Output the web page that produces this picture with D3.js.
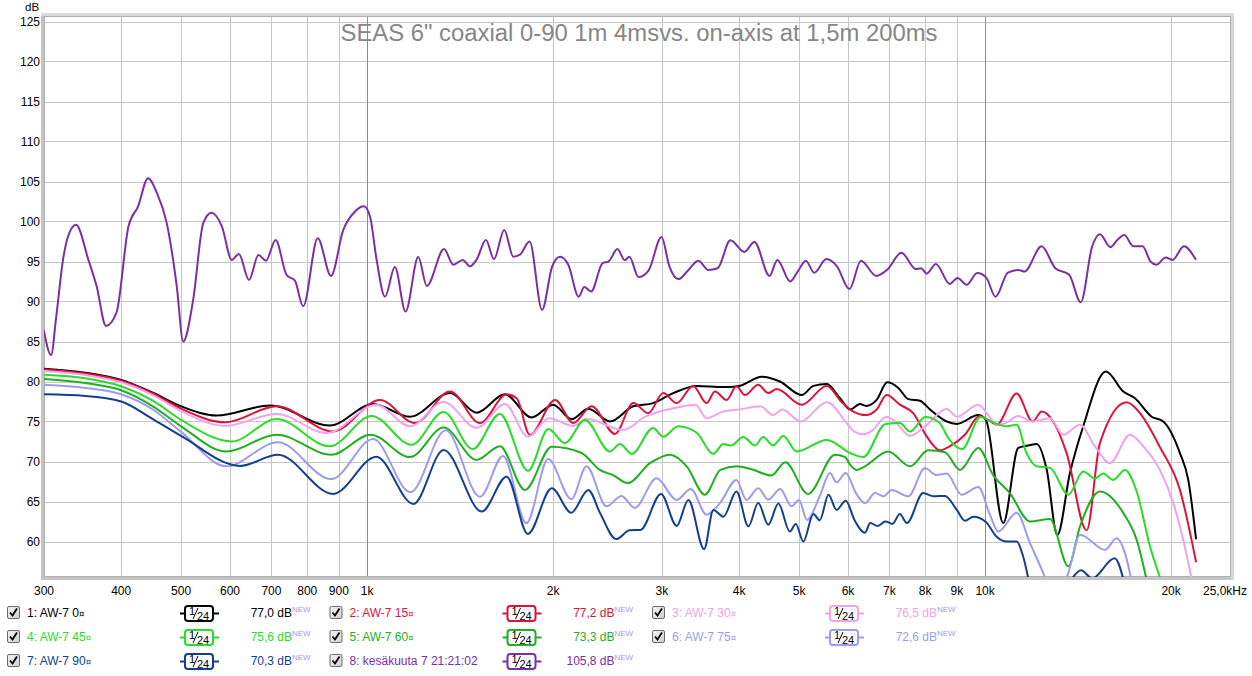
<!DOCTYPE html>
<html><head><meta charset="utf-8">
<script src="https://cdn.jsdelivr.net/npm/d3@7"></script>
<style>html,body{margin:0;padding:0;background:#fff;}svg{display:block;}</style>
</head><body>
<svg id="c" width="1252" height="676"></svg>
<script>
// ---------- data ----------
const title = "SEAS 6\" coaxial 0-90 1m 4msvs. on-axis at 1,5m 200ms";
const yTicks = [60,65,70,75,80,85,90,95,100,105,110,115,120,125];
const xTicks = [300,400,500,600,700,800,900,1000,2000,3000,4000,5000,6000,7000,8000,9000,10000,20000];
const xTickLabels = ["300","400","500","600","700","800","900","1k","2k","3k","4k","5k","6k","7k","8k","9k","10k","20k"];
const xEndLabel = "25,0kHz";
const seriesNames = ["1: AW-7 0","2: AW-7 15","3: AW-7 30","4: AW-7 45","5: AW-7 60","6: AW-7 75","7: AW-7 90","8: kesäkuuta 7 21:21:02"];
const seriesMarks = ["¤","¤","¤","¤","¤","¤","¤",""];
const seriesLevels = ["77,0","77,2","76,5","75,6","73,3","72,6","70,3","105,8"];
const seriesColors = ["#000000","#dc143c","#f2a2ec","#28dc28","#1fb01f","#9c9cee","#123f8f","#7b2fa6"];
const smoothing = "1/24";

const aw0 = [[300,81.6],[350,81.1],[400,80.2],[450,78.6],[500,76.9],[571,75.75],[697,77.0],[870,74.5],[1023,77.2],[1173,75.6],[1362,78.55],[1504,76.1],[1671,78.4],[1846,75.5],[2000,77.1],[2143,75.3],[2280,76.6],[2472,75.0],[2696,76.9],[2904,77.3],[3129,78.55],[3414,79.45],[3771,79.3],[4000,79.45],[4350,80.6],[4656,80.0],[5050,78.3],[5274,79.45],[5544,79.7],[5824,77.9],[6050,76.5],[6272,77.2],[6420,76.95],[6676,77.7],[6945,79.9],[7237,79.2],[7512,77.8],[7846,77.6],[8146,76.5],[8666,75.0],[9000,74.7],[9749,75.8],[10030,75.2],[10701,62.3],[11316,71.7],[11745,72.0],[12120,72.2],[12580,69.0],[13087,60.8],[13719,68.55],[14415,74.4],[15686,81.25],[16735,78.75],[17480,77.9],[18597,75.6],[19422,75.0],[20667,71.05],[21320,67.7],[21940,60.4]];
const aw15 = [[300,81.5],[350,81.0],[400,80.1],[450,78.5],[500,76.6],[589,74.9],[714,76.9],[881,73.75],[1049,77.7],[1195,74.8],[1362,78.75],[1523,74.8],[1682,78.4],[1746,77.9],[1834,73.3],[2015,77.7],[2156,74.8],[2308,76.9],[2518,73.45],[2696,77.3],[2851,76.05],[3014,78.55],[3169,77.3],[3370,79.45],[3543,77.3],[3655,78.75],[3817,77.7],[3960,79.4],[4087,78.3],[4294,79.6],[4458,78.55],[4600,79.05],[5050,77.1],[5544,79.45],[5850,77.5],[6100,76.3],[6420,75.8],[6676,76.5],[6930,78.3],[7281,77.1],[7651,76.05],[8050,73.1],[8454,71.4],[8760,71.9],[9279,73.35],[9790,75.7],[10120,75.2],[10440,74.6],[11250,78.5],[11940,75.0],[12350,76.25],[12890,75.0],[13550,71.05],[14600,61.4],[15340,72.3],[16948,77.4],[17808,76.05],[19182,71.8],[20667,66.45],[21940,57.5]];
const aw30 = [[300,81.3],[350,80.8],[400,79.9],[450,78.3],[500,76.3],[589,74.45],[714,75.95],[860,73.55],[1035,77.1],[1173,74.4],[1330,77.45],[1504,74.2],[1671,77.2],[1820,73.1],[1970,75.4],[2156,74.45],[2265,75.3],[2597,73.95],[2820,75.6],[3129,76.65],[3400,77.1],[3543,75.4],[3771,76.25],[4000,76.5],[4330,76.9],[4540,75.8],[4700,76.5],[5030,75.0],[5544,77.4],[6000,74.6],[6150,73.7],[6350,73.4],[6550,73.8],[6930,75.6],[7150,75.0],[7560,73.2],[8000,74.4],[8666,76.55],[9000,75.6],[9750,77.1],[10120,75.8],[10440,74.6],[10800,74.8],[11316,75.7],[11900,75.0],[12740,75.4],[13380,73.35],[14240,74.6],[15060,71.9],[15924,69.8],[17158,73.35],[18030,71.9],[19182,68.95],[20160,64.8],[20926,60.2],[21700,54.5]];
const aw45 = [[300,80.85],[350,80.4],[400,79.4],[450,77.6],[500,75.2],[604,72.5],[714,75.3],[870,71.9],[1017,75.7],[1180,72.1],[1330,76.2],[1482,71.55],[1640,75.95],[1822,68.85],[1965,74.05],[2090,72.3],[2251,75.2],[2472,71.25],[2565,72.2],[2680,70.95],[2904,74.2],[3014,73.1],[3189,74.4],[3414,73.6],[3633,70.95],[3771,72.2],[3880,72.0],[4062,73.05],[4243,72.0],[4375,73.05],[4540,72.0],[4715,73.2],[4956,71.25],[5544,72.7],[6070,71.0],[6350,70.55],[6900,74.7],[7280,74.8],[7560,73.75],[8000,75.55],[8420,74.9],[8760,72.7],[9180,71.55],[9830,75.55],[10300,74.9],[10837,74.4],[11250,74.6],[11670,71.05],[12120,69.4],[12735,69.2],[13636,65.85],[14415,68.75],[15057,67.9],[15531,68.5],[16122,67.7],[16840,68.95],[17592,66.25],[18487,59.4],[19500,54.0]];
const aw60 = [[300,80.3],[350,79.8],[400,78.9],[450,76.9],[500,74.4],[592,71.25],[714,73.35],[875,70.85],[1013,73.35],[1173,70.55],[1330,74.25],[1504,70.2],[1640,71.9],[1800,66.45],[1990,71.85],[2220,71.1],[2380,68.95],[2500,68.3],[2640,67.3],[2870,69.8],[3090,70.85],[3290,69.4],[3520,65.85],[3730,68.95],[3960,69.4],[4200,69.0],[4510,68.25],[4750,69.9],[5170,65.95],[5716,70.85],[5935,70.55],[6046,69.6],[6200,68.95],[6391,69.4],[6971,71.25],[7561,69.4],[8091,71.4],[8611,71.15],[9105,68.95],[9750,71.7],[10308,68.3],[10970,66.05],[11820,62.5],[12735,62.8],[13636,56.9],[14245,61.9],[15340,66.25],[16740,63.55],[17592,60.2],[18400,54.0]];
const aw75 = [[300,79.6],[350,79.2],[400,78.4],[450,76.5],[500,73.7],[592,69.4],[717,72.4],[875,67.8],[1023,72.8],[1175,66.15],[1340,73.9],[1523,65.6],[1660,70.7],[1810,62.3],[1964,70.3],[2140,65.3],[2265,69.4],[2440,64.4],[2580,65.7],[2710,64.2],[2940,67.9],[3169,65.2],[3340,66.55],[3543,63.35],[3724,64.8],[3960,67.7],[4110,65.2],[4294,66.65],[4458,65.25],[4660,66.55],[4860,64.4],[5000,65.2],[5150,62.7],[5400,65.65],[5610,68.55],[5750,67.4],[5950,68.55],[6180,66.05],[6391,64.8],[6636,66.05],[6850,65.65],[7059,66.45],[7510,65.65],[7993,69.15],[8350,68.3],[8666,68.5],[9164,65.85],[9750,66.8],[10182,63.35],[10500,61.25],[11250,63.6],[11820,59.8],[12420,56.05],[13000,52.0],[13636,56.05],[14245,60.85],[15630,58.95],[16326,60.4],[16840,58.55],[17371,54.0]];
const aw90 = [[300,78.4],[350,78.2],[400,77.5],[450,75.3],[500,73.2],[623,69.45],[717,70.85],[881,65.95],[1035,70.6],[1188,64.7],[1330,71.45],[1533,63.75],[1682,68.1],[1820,60.95],[1990,66.65],[2140,63.6],[2280,66.45],[2382,63.55],[2530,60.3],[2660,61.4],[2770,61.45],[2990,65.95],[3169,61.95],[3310,65.2],[3510,59.05],[3633,63.95],[3771,63.1],[3960,66.25],[4140,61.9],[4294,64.8],[4458,62.1],[4630,64.75],[4830,61.25],[4940,62.2],[5080,60.0],[5274,63.45],[5400,62.65],[5580,65.85],[5750,63.95],[5950,65.1],[6150,62.65],[6391,61.1],[6520,62.3],[6700,61.95],[6900,62.5],[7080,62.2],[7280,63.45],[7470,62.3],[7940,66.05],[8250,65.65],[8611,65.7],[9000,63.95],[9279,62.6],[9571,63.1],[10030,62.45],[10440,60.6],[10850,60.0],[11250,60.0],[11527,58.1],[11870,54.0],[12800,50.0],[13720,55.0],[14300,56.4],[14900,55.4],[16200,57.9],[16900,54.0]];
const aw8 = [[300,86.3],[308,83.3],[314,88.1],[322,95.2],[328,98.1],[338,99.6],[354,95.2],[365,91.9],[378,86.95],[393,88.6],[411,99.4],[426,101.9],[442,105.4],[457,103.55],[474,99.8],[492,91.9],[504,85.0],[523,90.2],[543,99.8],[560,101.1],[582,99.4],[604,95.2],[620,95.95],[644,92.7],[667,95.8],[686,95.1],[711,97.7],[741,93.3],[764,92.6],[788,89.4],[832,97.9],[874,93.2],[915,98.95],[956,101.25],[988,101.9],[1011,100.6],[1036,95.2],[1069,90.6],[1109,94.3],[1154,88.75],[1210,95.55],[1249,91.95],[1332,96.55],[1379,94.6],[1428,95.2],[1467,94.4],[1504,95.25],[1557,97.7],[1604,95.3],[1667,98.95],[1724,95.6],[1767,95.85],[1832,97.5],[1919,88.95],[1993,94.4],[2052,95.6],[2116,94.6],[2200,90.6],[2246,91.8],[2304,91.25],[2405,94.8],[2459,95.0],[2541,96.55],[2612,95.15],[2657,95.6],[2749,93.05],[2855,93.9],[2995,98.05],[3084,94.4],[3190,92.8],[3300,93.8],[3435,95.1],[3567,93.95],[3691,94.15],[3871,97.65],[4078,96.2],[4233,97.45],[4479,93.2],[4612,95.2],[4837,92.5],[4980,93.8],[5128,95.1],[5289,93.6],[5538,95.3],[5759,94.4],[6033,91.55],[6297,95.1],[6665,93.2],[6951,94.0],[7320,96.1],[7731,94.05],[7880,94.15],[8044,93.5],[8325,94.7],[8766,92.2],[9025,92.95],[9337,92.1],[9711,93.55],[10049,92.95],[10395,90.6],[10886,93.6],[11327,93.95],[11582,93.75],[12343,96.9],[12993,94.15],[13680,93.35],[14281,89.9],[14905,96.9],[15341,98.4],[15954,96.8],[16371,97.7],[16795,98.3],[17381,96.9],[17987,96.9],[18521,95.0],[18939,94.6],[19597,95.5],[20107,95.2],[20982,96.9],[21900,95.3]];
const seriesData = [aw0, aw15, aw30, aw45, aw60, aw75, aw90, aw8];

// ---------- layout ----------
const P = {l:44, t:16, r:1231, b:577};
const x = d3.scaleLog().domain([300, 25000]).range([P.l, P.r]);
const y = d3.scaleLinear().domain([60, 125]).range([541.5, 21.5]);
const FONT = "'Liberation Sans', Arial, sans-serif";

const svg = d3.select("#c").style("font-family", FONT);
svg.append("rect").attr("width",1252).attr("height",676).attr("fill","#fff");

const defs = svg.append("defs");
defs.append("clipPath").attr("id","pc").append("rect")
  .attr("x",P.l).attr("y",P.t).attr("width",P.r-P.l).attr("height",P.b-P.t);
const g1 = defs.append("linearGradient").attr("id","cbg").attr("x1",0).attr("y1",0).attr("x2",1).attr("y2",1);
g1.append("stop").attr("offset","0").attr("stop-color","#f4f4f4");
g1.append("stop").attr("offset","1").attr("stop-color","#cfcfcf");

// shadows of the plot frame
svg.append("rect").attr("x",P.l-3).attr("y",P.t-3).attr("width",P.r-P.l+6).attr("height",3).attr("fill","#dadada");
svg.append("rect").attr("x",P.l-3).attr("y",P.t).attr("width",3).attr("height",P.b-P.t+3).attr("fill","#c4c4c4");
svg.append("rect").attr("x",P.l-3).attr("y",P.b).attr("width",P.r-P.l+6).attr("height",3).attr("fill","#c4c4c4");
svg.append("rect").attr("x",P.r).attr("y",P.t).attr("width",3).attr("height",P.b-P.t+3).attr("fill","#d6d6d6");
svg.append("rect").attr("x",P.l).attr("y",P.t).attr("width",P.r-P.l).attr("height",P.b-P.t).attr("fill","#fff");

// grid
const grid = svg.append("g");
yTicks.forEach(v => {
  const yy = Math.round(y(v)) + 0.5;
  grid.append("line").attr("x1",P.l).attr("x2",P.r).attr("y1",yy).attr("y2",yy)
    .attr("stroke","#c6c6c6").attr("stroke-width",1);
});
xTicks.forEach(v => {
  if (v === 300) return;
  const xx = Math.round(x(v)) + 0.5;
  const major = (v === 1000 || v === 10000);
  grid.append("line").attr("x1",xx).attr("x2",xx).attr("y1",P.t).attr("y2",P.b)
    .attr("stroke", major ? "#8c8c8c" : "#c6c6c6").attr("stroke-width",1);
});

// frame
svg.append("rect").attr("x",P.l+0.5).attr("y",P.t+0.5).attr("width",P.r-P.l-1).attr("height",P.b-P.t-1)
  .attr("fill","none").attr("stroke","#b0b0b0");

// title
svg.append("text").attr("x",639).attr("y",41).attr("text-anchor","middle")
  .attr("font-size",23).attr("fill","#868686")
  .attr("textLength",597).attr("lengthAdjust","spacingAndGlyphs").text(title);

// axes labels
svg.append("text").attr("x",25).attr("y",11).attr("font-size",11.5).attr("fill","#000").text("dB");
yTicks.forEach(v => {
  svg.append("text").attr("x",40).attr("y",y(v)+4.5).attr("text-anchor","end")
    .attr("font-size",12).attr("fill","#000").text(v);
});
xTicks.forEach((v,i) => {
  svg.append("text").attr("x",x(v)).attr("y",595).attr("text-anchor","middle")
    .attr("font-size",12).attr("fill","#000").text(xTickLabels[i]);
});
svg.append("text").attr("x",x(25000)+16).attr("y",595).attr("text-anchor","end")
  .attr("font-size",12).attr("fill","#000").text(xEndLabel);

// curves
const line = d3.line().x(d => x(d[0])).y(d => y(d[1])).curve(d3.curveMonotoneX);
const lines = svg.append("g").attr("clip-path","url(#pc)");
seriesData.forEach((data,i) => {
  lines.append("path").attr("d", line(data)).attr("fill","none")
    .attr("stroke", seriesColors[i]).attr("stroke-width",2)
    .attr("stroke-linejoin","round").attr("stroke-linecap","round");
});

// legend
const leg = svg.append("g");
seriesNames.forEach((name,i) => {
  const col = i % 3, row = Math.floor(i / 3);
  const gx = 7 + col * 322.5, gy = 606 + row * 24;
  const c = seriesColors[i];
  const g = leg.append("g").attr("transform", `translate(${gx},${gy})`);
  // checkbox
  g.append("rect").attr("x",0.5).attr("y",0.5).attr("width",12).attr("height",12).attr("rx",1.5)
    .attr("fill","url(#cbg)").attr("stroke","#6a6a6a");
  g.append("path").attr("d","M3,6.5 L5.5,9.5 L10,2.5").attr("fill","none").attr("stroke","#000")
    .attr("stroke-width",1.8).attr("stroke-linejoin","miter");
  // label
  const t = g.append("text").attr("x",20).attr("y",11).attr("font-size",12).attr("fill",c);
  t.append("tspan").text(name);
  if (seriesMarks[i]) t.append("tspan").attr("font-family","'DejaVu Sans', sans-serif").attr("font-size",8.5).text(seriesMarks[i]);
  // smoothing box
  const bx = 173;
  g.append("line").attr("x1",bx).attr("x2",bx+39).attr("y1",7.5).attr("y2",7.5).attr("stroke",c).attr("stroke-width",2);
  g.append("rect").attr("x",bx+5).attr("y",0).attr("width",28).attr("height",15).attr("rx",3)
    .attr("fill","#fff").attr("stroke",c).attr("stroke-width",2);
  const parts = smoothing.split("/");
  g.append("text").attr("x",bx+9).attr("y",9).attr("font-size",11).attr("fill","#000").text(parts[0]);
  g.append("line").attr("x1",bx+13).attr("x2",bx+18).attr("y1",13).attr("y2",2).attr("stroke","#000").attr("stroke-width",1);
  g.append("text").attr("x",bx+17).attr("y",14).attr("font-size",11).attr("fill","#000").text(parts[1]);
  // level
  g.append("text").attr("x",285).attr("y",11).attr("text-anchor","end").attr("font-size",12)
    .attr("fill",c).text(seriesLevels[i] + " dB");
  g.append("text").attr("x",285).attr("y",6).attr("font-size",8).attr("fill","#9c9cee").text("NEW");
});
</script>
</body></html>
